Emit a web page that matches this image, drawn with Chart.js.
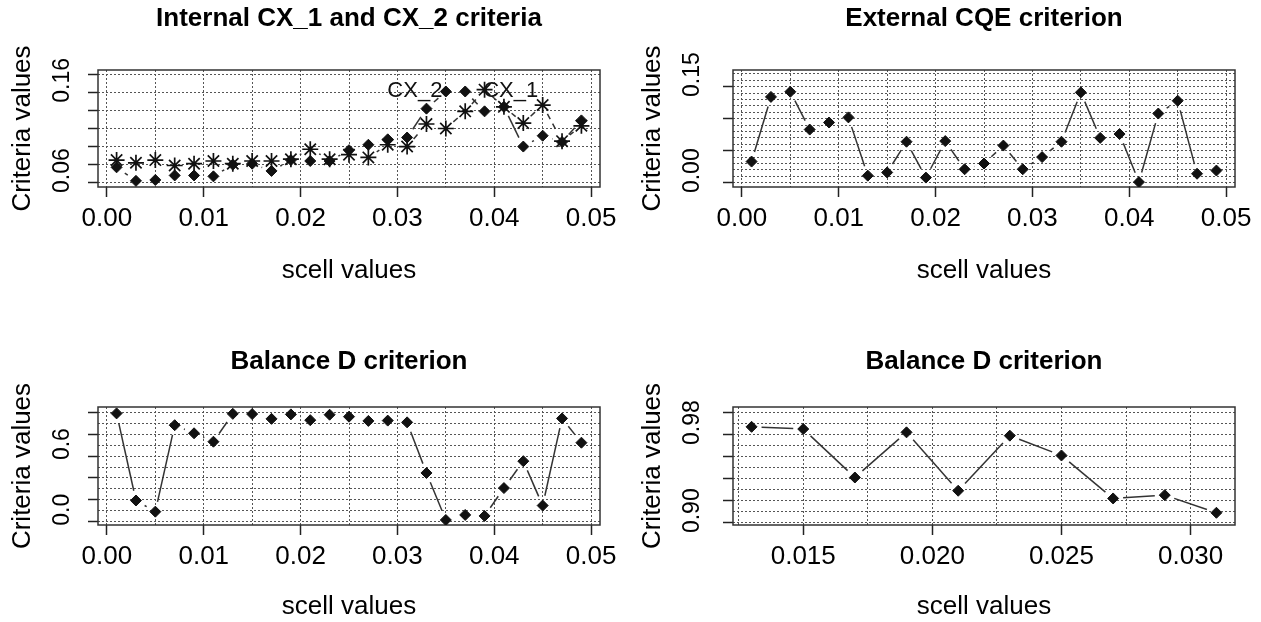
<!DOCTYPE html>
<html>
<head>
<meta charset="utf-8">
<script src="https://cdn.jsdelivr.net/npm/chart.js@4.4.1/dist/chart.umd.min.js"></script>
<style>
  html, body { margin: 0; padding: 0; background: #fff; overflow: hidden; }
  #wrap { position: relative; width: 1261px; height: 622px; }
  canvas { position: absolute; }
</style>
</head>
<body>
<div id="wrap">
  <canvas id="c1" width="630" height="311" style="left:0;top:0"></canvas>
  <canvas id="c2" width="631" height="311" style="left:630px;top:0"></canvas>
  <canvas id="c3" width="630" height="311" style="left:0;top:311px"></canvas>
  <canvas id="c4" width="631" height="311" style="left:630px;top:311px"></canvas>
</div>
<script>
// scell values on the x axis
var scell = [0.001, 0.003, 0.005, 0.007, 0.009, 0.011, 0.013, 0.015, 0.017, 0.019,
             0.021, 0.023, 0.025, 0.027, 0.029, 0.031, 0.033, 0.035, 0.037, 0.039,
             0.041, 0.043, 0.045, 0.047, 0.049];

// internal criteria (diamonds = CX_2, stars = CX_1)
var cx2Values = [0.077, 0.062, 0.063, 0.068, 0.068, 0.067, 0.080, 0.081, 0.073, 0.085,
                 0.084, 0.084, 0.096, 0.102, 0.108, 0.110, 0.142, 0.161, 0.161, 0.139,
                 0.144, 0.100, 0.112, 0.105, 0.129];
var cx1Values = [0.085, 0.082, 0.085, 0.079, 0.081, 0.084, 0.081, 0.084, 0.084, 0.086,
                 0.097, 0.086, 0.091, 0.088, 0.102, 0.100, 0.125, 0.120, 0.139, 0.163,
                 0.144, 0.126, 0.146, 0.106, 0.123];
var cxNames = ['CX_2', 'CX_1'];
var cxNameX = [0.0318, 0.0417];
var cxNameY = [0.1615, 0.1615];

// external CQE criterion
var cqeValues = [0.033, 0.134, 0.142, 0.083, 0.094, 0.102, 0.011, 0.016, 0.064, 0.008,
                 0.065, 0.021, 0.030, 0.058, 0.021, 0.040, 0.064, 0.141, 0.070, 0.076,
                 0.001, 0.108, 0.128, 0.014, 0.019];

// balance D criterion
var balanceValues = [0.991, 0.194, 0.092, 0.883, 0.809, 0.732, 0.987, 0.985, 0.941, 0.982,
                     0.929, 0.979, 0.961, 0.922, 0.925, 0.909, 0.446, 0.016, 0.062, 0.053,
                     0.308, 0.554, 0.148, 0.945, 0.723];
// zoomed view: scell 0.013 .. 0.031
var scellZoom = scell.slice(6, 16);
var balanceZoomValues = balanceValues.slice(6, 16);

// tick labels that are printed (others are bare ticks)
var xLabels = ['0.00', '0.01', '0.02', '0.03', '0.04', '0.05'];
var xLabelsZoom = ['0.015', '0.020', '0.025', '0.030'];
var yLabelsCX = ['0.06', '0.16'];
var yLabelsCQE = ['0.00', '0.15'];
var yLabelsBal = ['0.0', '0.6'];
var yLabelsBalZoom = ['0.90', '0.98'];

var FONT = "'Liberation Sans', Arial, sans-serif";
var INK = '#111';

function pts(xs, ys) {
  return xs.map(function(x, i) { return {x: x, y: ys[i]}; });
}

// R style type="b": segments with a gap around every point
var typeB = {
  id: 'typeB',
  beforeDatasetsDraw: function(chart) {
    var ctx = chart.ctx;
    chart.data.datasets.forEach(function(ds, i) {
      var els = chart.getDatasetMeta(i).data;
      var gap = ds.segGap || 10;
      ctx.save();
      ctx.strokeStyle = ds.segColor || '#333';
      ctx.lineWidth = ds.segWidth || 1.5;
      ctx.setLineDash(ds.segDash || []);
      for (var k = 1; k < els.length; k++) {
        var a = els[k - 1], b = els[k];
        var dx = b.x - a.x, dy = b.y - a.y;
        var len = Math.sqrt(dx * dx + dy * dy);
        if (len <= 2 * gap) continue;
        var ux = dx / len, uy = dy / len;
        ctx.beginPath();
        ctx.moveTo(a.x + ux * gap, a.y + uy * gap);
        ctx.lineTo(b.x - ux * gap, b.y - uy * gap);
        ctx.stroke();
      }
      ctx.restore();
    });
  }
};

var frame = {
  id: 'frame',
  beforeDatasetsDraw: function(chart) {
    var a = chart.chartArea, ctx = chart.ctx;
    ctx.save();
    ctx.strokeStyle = '#333';
    ctx.lineWidth = 1.5;
    ctx.strokeRect(a.left, a.top, a.right - a.left, a.bottom - a.top);
    ctx.restore();
  }
};

// text labels placed at data coordinates (like R's text())
var notes = {
  id: 'notes',
  afterDatasetsDraw: function(chart) {
    var n = chart.config.options.noteText;
    if (!n) return;
    var ctx = chart.ctx;
    ctx.save();
    ctx.fillStyle = INK;
    ctx.font = '22px ' + FONT;
    ctx.textAlign = 'center';
    ctx.textBaseline = 'middle';
    for (var i = 0; i < n.length; i++) {
      ctx.fillText(n[i], chart.scales.x.getPixelForValue(cxNameX[i]),
                   chart.scales.y.getPixelForValue(cxNameY[i]));
    }
    ctx.restore();
  }
};

var measure = document.createElement('canvas').getContext('2d');
function textW(s, size) {
  measure.font = size + 'px ' + FONT;
  return measure.measureText(s).width;
}

function makePanel(id, o) {
  var tickFont = {family: FONT, size: 26};
  var yTickFont = {family: FONT, size: 23};
  var labelX = 63;
  var widest = Math.max.apply(null, o.yLabels.map(function(s) { return textW(s, 23); }));
  var yPad = o.boxLeft - 10 - labelX - widest / 2;
  var tickGrid = {drawOnChartArea: false, drawTicks: true, tickLength: 10, tickColor: '#222', tickWidth: 1.5};
  var dotted = {drawTicks: false, color: '#555', lineWidth: 1};

  return new Chart(document.getElementById(id), {
    type: 'scatter',
    data: {datasets: o.datasets},
    options: {
      responsive: false,
      animation: false,
      events: [],
      noteText: o.noteText,
      layout: {padding: {left: 0, right: o.padRight, top: 0, bottom: 0}},
      plugins: {
        legend: {display: false},
        tooltip: {enabled: false},
        title: {
          display: true,
          fullSize: false,   // centre over the plot box, as R does
          text: o.title,
          color: '#000',
          font: {family: FONT, size: 26, weight: 'bold'},
          padding: {top: o.titleTop, bottom: o.titleBottom}
        }
      },
      scales: {
        x: {
          type: 'linear', position: 'bottom', min: o.xMin, max: o.xMax,
          afterFit: function(s) { s.height = 311 - o.boxBottom; },
          border: {display: false},
          grid: tickGrid,
          ticks: {
            stepSize: o.xStep, autoSkip: false, includeBounds: false, maxRotation: 0,
            padding: 6, color: '#000', font: tickFont,
            callback: function(v) {
              var s = v.toFixed(o.xDec);
              return o.xLabels.indexOf(s) >= 0 ? s : '';
            }
          },
          title: {display: true, text: 'scell values', color: '#000', font: tickFont,
                  padding: {top: 0, bottom: o.xTitlePad}}
        },
        y: {
          type: 'linear', position: 'left', min: o.yMin, max: o.yMax,
          afterFit: function(s) { s.width = o.boxLeft; },
          border: {display: false},
          grid: tickGrid,
          ticks: {
            stepSize: o.yStep, autoSkip: false, includeBounds: false,
            minRotation: 90, maxRotation: 90, crossAlign: 'center', labelOffset: -12,
            padding: yPad, color: '#000', font: yTickFont,
            callback: function(v) {
              var s = v.toFixed(o.yDec);
              return o.yLabels.indexOf(s) >= 0 ? s : '';
            }
          },
          title: {display: true, text: 'Criteria values', color: '#000', font: tickFont,
                  padding: {top: 7.4, bottom: 0}}
        },
        xg: {
          type: 'linear', position: 'top', min: o.xMin, max: o.xMax,
          afterFit: function(s) { s.height = 0; },
          border: {display: false, dash: [2, 2]},
          grid: dotted,
          ticks: {display: false, stepSize: o.xGrid, includeBounds: false, autoSkip: false}
        },
        yg: {
          type: 'linear', position: 'right', min: o.yMin, max: o.yMax,
          afterFit: function(s) { s.width = 0; },
          border: {display: false, dash: [2, 2]},
          grid: dotted,
          ticks: {display: false, stepSize: o.yGrid, includeBounds: false, autoSkip: false}
        }
      }
    },
    plugins: [frame, typeB, notes]
  });
}

function series(xs, ys, style, dash) {
  var star = style === 'star';
  return {
    data: pts(xs, ys),
    pointStyle: style,
    pointRadius: star ? 8 : 5.5,
    borderWidth: star ? 1.7 : 1,
    borderColor: INK,
    backgroundColor: INK,
    segDash: dash,
    segWidth: 1.5,
    segColor: '#333',
    segGap: 10
  };
}

var topRow = {titleTop: 3.4, titleBottom: 35.4, boxBottom: 187, xTitlePad: 24.4};
var bottomRow = {titleTop: 35.4, titleBottom: 29.4, boxBottom: 214, xTitlePad: 0};

function merge(a, b) {
  var r = {};
  Object.keys(a).forEach(function(k) { r[k] = a[k]; });
  Object.keys(b).forEach(function(k) { r[k] = b[k]; });
  return r;
}

makePanel('c1', merge(topRow, {
  title: 'Internal CX_1 and CX_2 criteria',
  boxLeft: 98, padRight: 30,
  xMin: -0.00092, xMax: 0.05092, xStep: 0.01, xGrid: 0.005, xDec: 2, xLabels: xLabels,
  yMin: 0.0552, yMax: 0.1848, yStep: 0.02, yGrid: 0.02, yDec: 2, yLabels: yLabelsCX,
  datasets: [series(scell, cx2Values, 'rectRot', []), series(scell, cx1Values, 'star', [6, 5])],
  noteText: cxNames
}));

makePanel('c2', merge(topRow, {
  title: 'External CQE criterion',
  boxLeft: 103, padRight: 26,
  xMin: -0.00092, xMax: 0.05092, xStep: 0.01, xGrid: 0.005, xDec: 2, xLabels: xLabels,
  yMin: -0.0067, yMax: 0.176, yStep: 0.05, yGrid: 0.01, yDec: 2, yLabels: yLabelsCQE,
  datasets: [series(scell, cqeValues, 'rectRot', [])]
}));

makePanel('c3', merge(bottomRow, {
  title: 'Balance D criterion',
  boxLeft: 98, padRight: 30,
  xMin: -0.00092, xMax: 0.05092, xStep: 0.01, xGrid: 0.005, xDec: 2, xLabels: xLabels,
  yMin: -0.030, yMax: 1.0495, yStep: 0.2, yGrid: 0.1, yDec: 1, yLabels: yLabelsBal,
  datasets: [series(scell, balanceValues, 'rectRot', [])]
}));

makePanel('c4', merge(bottomRow, {
  title: 'Balance D criterion',
  boxLeft: 103, padRight: 26,
  xMin: 0.01228, xMax: 0.03172, xStep: 0.005, xGrid: 0.0025, xDec: 3, xLabels: xLabelsZoom,
  yMin: 0.8979, yMax: 1.005, yStep: 0.02, yGrid: 0.01, yDec: 2, yLabels: yLabelsBalZoom,
  datasets: [series(scellZoom, balanceZoomValues, 'rectRot', [])]
}));
</script>
</body>
</html>
